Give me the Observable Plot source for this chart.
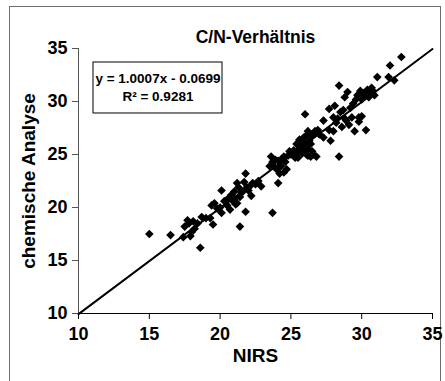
<!DOCTYPE html>
<html>
<head>
<meta charset="utf-8">
<script src="https://cdn.jsdelivr.net/npm/d3@7"></script>
<script src="https://cdn.jsdelivr.net/npm/@observablehq/plot@0.6"></script>
<style>
  html, body { margin: 0; padding: 0; background: #fff; }
  #wrap { position: relative; width: 445px; height: 381px; overflow: hidden; }
  #frame { position: absolute; left: 9px; top: 6px; width: 432px; height: 400px; border: 1px solid #6e6e6e; box-sizing: border-box; }
  #chart { position: absolute; left: 0; top: 0; }
</style>
</head>
<body>
<div id="wrap"><div id="frame"></div><div id="chart"></div></div>
<script>
// ---- data ----
const title = "C/N-Verhältnis";
const xLabel = "NIRS";
const yLabel = "chemische Analyse";
const xTicks = [10, 15, 20, 25, 30, 35];
const yTicks = [10, 15, 20, 25, 30, 35];
const eqLine1 = "y = 1.0007x - 0.0699";
const eqLine2 = "R² = 0.9281";
const slope = 1.0007;
const intercept = -0.0699;
const trendX = [10, 35];

const nirs = [
  15.0, 16.5, 17.4, 17.5, 17.7, 17.9, 18.0, 18.1, 18.2, 18.6,
  18.7, 19.0, 19.3, 19.5, 19.4, 19.6, 20.0, 20.1, 20.1, 20.5,
  20.7, 20.8, 21.0, 21.1, 21.2, 21.3, 21.4, 21.4, 21.8, 21.8,
  21.7, 22.0, 22.2, 22.5, 22.7, 22.9, 21.6, 23.7, 23.6, 23.7,
  23.8, 24.0, 24.1, 24.2, 24.3, 24.5, 24.7, 24.9, 24.5, 24.1,
  25.4, 25.5, 25.7, 25.8, 25.9, 26.0, 26.1, 26.2, 26.4, 26.5,
  26.8, 26.7, 26.2, 25.6, 26.0, 26.3, 25.8, 26.6, 27.3, 27.3,
  27.7, 27.8, 27.7, 28.0, 28.1, 28.4, 28.4, 28.2, 28.6, 28.7,
  28.8, 29.0, 29.1, 29.3, 29.5, 29.7, 29.8, 29.9, 30.0, 30.3,
  30.2, 30.4, 30.6, 30.8, 31.1, 30.9, 32.0, 31.9, 32.3, 32.8,
  25.2, 25.4, 25.6, 25.9, 26.1, 26.4, 26.6, 26.9, 27.0, 25.3,
  25.0, 26.2, 26.5, 28.0, 28.3, 28.5, 28.9, 29.2, 29.4, 29.6,
  30.0, 30.1, 30.5, 30.7, 29.8, 28.8, 19.8, 20.3, 20.6, 21.0,
  21.2, 21.5, 21.9, 22.3, 22.1, 20.9, 23.5, 23.9, 24.3, 24.6,
  24.8, 18.4, 17.8
];
const chemisch = [
  17.5, 17.4, 17.2, 18.2, 18.8, 17.3, 17.7, 18.7, 18.0, 16.2,
  19.1, 19.0, 19.0, 18.4, 20.2, 20.4, 20.0, 19.5, 21.6, 20.2,
  19.8, 21.2, 20.8, 20.3, 22.3, 21.9, 21.0, 18.2, 19.6, 23.2,
  22.4, 21.6, 21.1, 22.2, 22.5, 22.0, 21.5, 19.5, 24.8, 24.3,
  23.9, 23.6, 22.3, 23.2, 23.9, 24.8, 23.6, 25.3, 23.3, 24.4,
  25.2, 24.7, 25.8, 26.3, 26.6, 28.8, 25.0, 27.2, 24.8, 26.8,
  24.8, 27.2, 25.5, 25.5, 26.0, 26.3, 25.1, 25.0, 26.6, 28.2,
  27.3, 26.3, 29.3, 28.5, 29.6, 31.5, 24.8, 28.0, 27.6, 29.2,
  30.4, 30.9, 27.8, 28.5, 27.2, 30.6, 28.1, 31.0, 28.6, 27.3,
  30.5, 31.1, 30.8, 31.0, 32.3, 30.6, 33.4, 32.3, 32.0, 34.2,
  25.4, 26.0, 26.4, 25.4, 26.8, 26.0, 27.0, 27.3, 26.9, 24.7,
  25.0, 24.9, 25.3, 27.2, 28.4, 29.0, 28.2, 29.4, 29.8, 30.2,
  30.2, 30.8, 30.4, 31.3, 28.5, 28.4, 19.9, 20.6, 20.9, 21.5,
  20.4, 21.4, 21.9, 22.3, 22.0, 20.6, 23.9, 24.5, 24.5, 24.3,
  24.9, 18.5, 18.5
];

// ---- build ----
const points = nirs.map((x, i) => ({x, y: chemisch[i]}));
const trend = trendX.map(x => ({x, y: slope * x + intercept}));
// annotation box (data-space bounds of the equation label box)
const eqBox = [{x1: 11.06, x2: 20.17, y1: 28.87, y2: 33.68}];
const eqPos = {x: 15.61, y1: 32.15, y2: 30.45};

const font = "'Liberation Sans', Arial, Helvetica, sans-serif";

const chart = Plot.plot({
  width: 445,
  height: 381,
  marginLeft: 78,
  marginRight: 13,
  marginTop: 48,
  marginBottom: 68,
  style: {fontFamily: font, fontSize: "18px", fontWeight: "bold", color: "#000", background: "transparent"},
  x: {domain: [10, 35], label: null},
  y: {domain: [10, 35], label: null},
  marks: [
    Plot.ruleX([10], {stroke: "#555", strokeWidth: 1}),
    Plot.ruleY([10], {stroke: "#000", strokeWidth: 1}),
    Plot.axisX({ticks: xTicks, tickSize: 6, tickPadding: 8, label: null, fontSize: 18, fontWeight: "bold", stroke: "#000"}),
    Plot.axisY({ticks: yTicks, tickSize: 6, tickPadding: 5, label: null, fontSize: 18, fontWeight: "bold", stroke: "#555"}),
    Plot.line(trend, {x: "x", y: "y", stroke: "#000", strokeWidth: 2}),
    Plot.dot(points, {x: "x", y: "y", symbol: "diamond2", r: 3.9, fill: "#000", stroke: "none"}),
    Plot.rect(eqBox, {x1: "x1", x2: "x2", y1: "y1", y2: "y2", fill: "#fff", stroke: "#000", strokeWidth: 1}),
    Plot.text([eqLine1], {x: eqPos.x, y: eqPos.y1, text: d => d, fontSize: 13.5, fontWeight: "bold", fill: "#000"}),
    Plot.text([eqLine2], {x: eqPos.x, y: eqPos.y2, text: d => d, fontSize: 13.5, fontWeight: "bold", fill: "#000"}),
    Plot.text([title], {frameAnchor: "top", lineAnchor: "middle", dy: -11, text: d => d, fontSize: 17.5, fontWeight: "bold", fill: "#000"}),
    Plot.text([xLabel], {frameAnchor: "bottom", lineAnchor: "middle", dy: 42, text: d => d, fontSize: 19, fontWeight: "bold", fill: "#000"}),
    Plot.text([yLabel], {frameAnchor: "left", textAnchor: "middle", lineAnchor: "middle", dx: -50, rotate: -90, text: d => d, fontSize: 19, fontWeight: "bold", fill: "#000"})
  ]
});
document.getElementById("chart").append(chart);
</script>
</body>
</html>
